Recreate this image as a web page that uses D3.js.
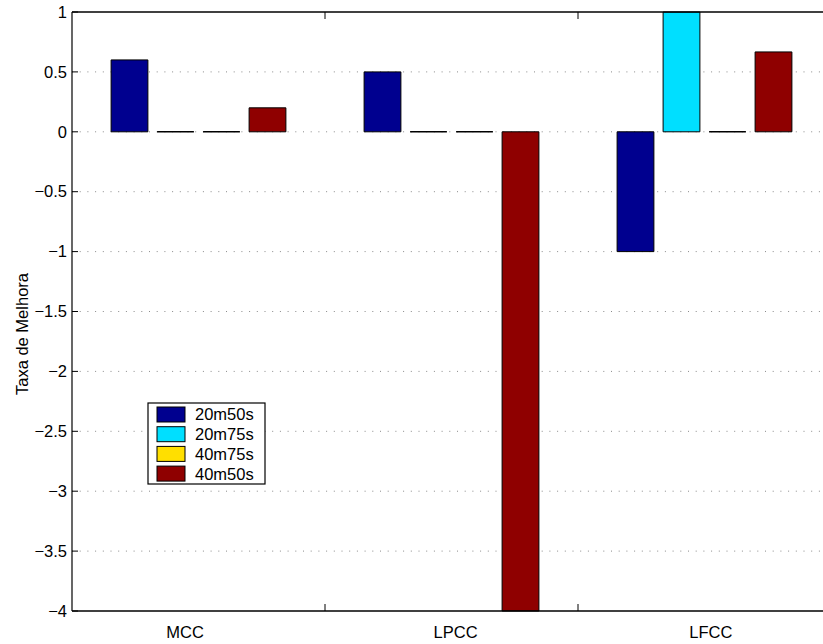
<!DOCTYPE html>
<html><head><meta charset="utf-8">
<script src="https://cdn.jsdelivr.net/npm/d3@7"></script>
<style>body{margin:0;background:#fff}svg{display:block}text{font-family:"Liberation Sans",Arial,sans-serif}</style>
</head><body><svg id="c" width="823" height="644"></svg>
<script>
const categories = ["MCC", "LPCC", "LFCC"];
const seriesNames = ["20m50s", "20m75s", "40m75s", "40m50s"];
const s20m50s = [0.6, 0.5, -1];
const s20m75s = [0, 0, 1];
const s40m75s = [0, 0, 0];
const s40m50s = [0.2, -4, 0.6667];
const seriesValues = [s20m50s, s20m75s, s40m75s, s40m50s];
const colors = ["#00008F", "#00DFFF", "#FFDF00", "#8F0000"];
const yTicks = [1, 0.5, 0, -0.5, -1, -1.5, -2, -2.5, -3, -3.5, -4];
const xTicks = [1.5, 2.5];
const labelPos = [0.947, 2.016, 3.025];

const svg = d3.select("#c");
const L = 72, T = 12, B = 611, R = 831;
const FS = 16.5;
const x = d3.scaleLinear().domain([0.5, 3.5]).range([L, R]);
const y = d3.scaleLinear().domain([-4, 1]).range([B, T]);
const fmt = v => (v < 0 ? "\u2212" : "") + Math.abs(v);

// grid
svg.append("g").selectAll("line").data(yTicks.filter(v => v !== 1 && v !== -4)).join("line")
  .attr("x1", L).attr("x2", R).attr("y1", d => y(d)).attr("y2", d => y(d))
  .attr("stroke", "#8a8a8a").attr("stroke-width", 1).attr("stroke-dasharray", "1,6.7");

// bars
const groupW = Math.min(0.8, 4 / (4 + 1.5));
const step = groupW / 4;
const bw = step * 0.8;
seriesValues.forEach((vals, j) => {
  svg.append("g").selectAll("path").data(vals).join("path")
    .attr("d", (v, i) => {
      const xc = (i + 1) + (j - 1.5) * step;
      const x0 = x(xc - bw / 2), x1 = x(xc + bw / 2);
      const y0 = y(0), y1 = y(v);
      return `M${x0},${y0}L${x0},${y1}L${x1},${y1}L${x1},${y0}Z`;
    })
    .attr("fill", colors[j]).attr("stroke", "#000").attr("stroke-width", v => v === 0 ? 1.6 : 1);
});

// axes frame
svg.append("line").attr("x1", L).attr("x2", R).attr("y1", T).attr("y2", T).attr("stroke", "#000").attr("stroke-width", 1.5);
svg.append("line").attr("x1", L).attr("x2", R).attr("y1", B).attr("y2", B).attr("stroke", "#000").attr("stroke-width", 1.5);
svg.append("line").attr("x1", L).attr("x2", L).attr("y1", T).attr("y2", B).attr("stroke", "#000").attr("stroke-width", 1.2);

// y ticks
const yg = svg.append("g");
yg.selectAll("line").data(yTicks).join("line")
  .attr("x1", L).attr("x2", L + 6).attr("y1", d => y(d)).attr("y2", d => y(d)).attr("stroke", "#000");
yg.selectAll("text").data(yTicks).join("text")
  .attr("x", L - 5).attr("y", d => y(d)).attr("dy", "0.35em").attr("text-anchor", "end")
  .attr("font-size", FS).text(fmt);

// x ticks
const xg = svg.append("g");
xTicks.forEach(t => {
  xg.append("line").attr("x1", x(t)).attr("x2", x(t)).attr("y1", B).attr("y2", B - 7).attr("stroke", "#000");
  xg.append("line").attr("x1", x(t)).attr("x2", x(t)).attr("y1", T).attr("y2", T + 7).attr("stroke", "#000");
});
xg.selectAll("text").data(categories).join("text")
  .attr("x", (d, i) => x(labelPos[i])).attr("y", B + 27).attr("text-anchor", "middle")
  .attr("font-size", FS).text(d => d);

// y label
svg.append("text").attr("transform", `translate(28,334) rotate(-90)`)
  .attr("text-anchor", "middle").attr("font-size", FS).text("Taxa de Melhora");

// legend
const lg = svg.append("g").attr("transform", "translate(148,403)");
lg.append("rect").attr("width", 117).attr("height", 81).attr("fill", "#fff").attr("stroke", "#000").attr("stroke-width", 1.2);
seriesNames.forEach((n, j) => {
  const yy = 4 + j * 19.7;
  lg.append("rect").attr("x", 9).attr("y", yy).attr("width", 28).attr("height", 15)
    .attr("fill", colors[j]).attr("stroke", "#000").attr("stroke-width", 1);
  lg.append("text").attr("x", 47).attr("y", yy + 7.5).attr("dy", "0.36em").attr("font-size", FS).text(n);
});
</script></body></html>
